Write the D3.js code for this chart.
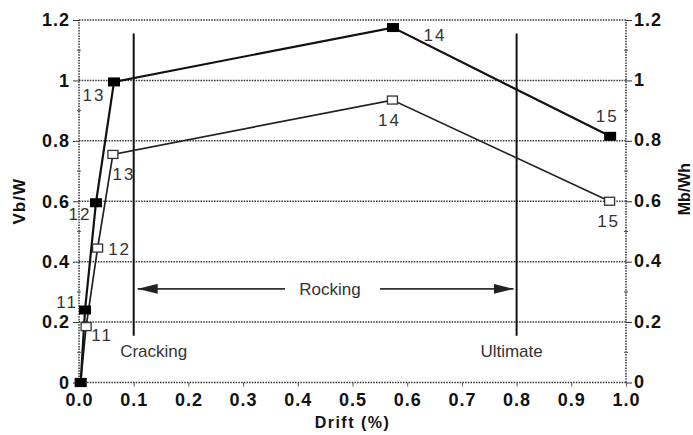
<!DOCTYPE html>
<html>
<head>
<meta charset="utf-8">
<script src="https://cdn.jsdelivr.net/npm/d3@7"></script>
<style>
  html, body { margin: 0; padding: 0; background: #fff; }
  svg { display: block; font-family: "Liberation Sans", Arial, sans-serif; }
</style>
</head>
<body>
<svg id="chart" width="693" height="435"></svg>
<script>
// Shear response: base shear ratio (filled) and moment ratio (open) vs drift
const stepLabels   = ["", "11", "12", "13", "14", "15"];
const driftShear   = [0.003, 0.011, 0.031, 0.064, 0.574, 0.971];
const shearRatio   = [0.0, 0.24, 0.595, 0.995, 1.175, 0.815];
const driftMoment  = [0.003, 0.013, 0.034, 0.062, 0.573, 0.970];
const momentRatio  = [0.0, 0.185, 0.445, 0.755, 0.935, 0.60];

const xTicks = [0.0, 0.1, 0.2, 0.3, 0.4, 0.5, 0.6, 0.7, 0.8, 0.9, 1.0];
const yTicks = [0, 0.2, 0.4, 0.6, 0.8, 1, 1.2];
const yMinorTicks = [0.1, 0.3, 0.5, 0.7, 0.9, 1.1];

// Stage markers and the rocking range
const stageDrift  = [0.1, 0.8];
const stageNames  = ["Cracking", "Ultimate"];
const stageSpan   = [0.155, 1.155];
const rockingLevel = 0.31;

const svg = d3.select("#chart");
const x = d3.scaleLinear().domain([0, 1]).range([79, 626]);
const y = d3.scaleLinear().domain([0, 1.2]).range([382.5, 20]);

const dotted = "1.5,1.2";
const gridColor = "#333";

// Horizontal grid lines (dotted), including top and bottom frame
svg.append("g").selectAll("line").data(yTicks).join("line")
  .attr("x1", x(0)).attr("x2", x(1))
  .attr("y1", d => y(d)).attr("y2", d => y(d))
  .attr("stroke", gridColor).attr("stroke-width", 1.5)
  .attr("stroke-dasharray", dotted);

// Left and right frame (dotted)
svg.append("g").selectAll("line").data([0, 1]).join("line")
  .attr("x1", d => x(d)).attr("x2", d => x(d))
  .attr("y1", y(0)).attr("y2", y(1.2))
  .attr("stroke", gridColor).attr("stroke-width", 1.5)
  .attr("stroke-dasharray", dotted);

// Axes
const tickFont = g => g.selectAll("text")
  .attr("font-size", 18).attr("font-weight", "bold").attr("fill", "#111")
  .attr("letter-spacing", 1)
  .attr("font-family", "'Liberation Sans', Arial, sans-serif");

const leftAxis = d3.axisLeft(y).tickValues(yTicks).tickSize(6).tickPadding(3)
  .tickFormat(d => d3.format("")(d));
svg.append("g").attr("transform", `translate(${x(0)},0)`).call(leftAxis)
  .call(g => g.select(".domain").remove())
  .call(g => g.selectAll("line").attr("stroke", "#333"))
  .call(tickFont);

const rightAxis = d3.axisRight(y).tickValues(yTicks).tickSize(6).tickPadding(2)
  .tickFormat(d => d3.format("")(d));
svg.append("g").attr("transform", `translate(${x(1)},0)`).call(rightAxis)
  .call(g => g.select(".domain").remove())
  .call(g => g.selectAll("line").attr("stroke", "#333"))
  .call(tickFont)
  .call(g => g.selectAll("text").attr("dy", "0.28em"));

// Minor ticks on both vertical axes
[0, 1].forEach(side => {
  svg.append("g").selectAll("line").data(yMinorTicks).join("line")
    .attr("x1", x(side) - 2).attr("x2", x(side) + 2)
    .attr("y1", d => y(d)).attr("y2", d => y(d))
    .attr("stroke", "#555").attr("stroke-width", 1);
});

const bottomAxis = d3.axisBottom(x).tickValues(xTicks).tickSize(4).tickPadding(7)
  .tickFormat(d3.format(".1f"));
svg.append("g").attr("transform", `translate(0,${y(0)})`).call(bottomAxis)
  .call(g => g.select(".domain").remove())
  .call(g => g.selectAll("line").attr("stroke", "#555"))
  .call(tickFont);

// Axis titles
svg.append("text")
  .attr("transform", `translate(25,${y(0.6)}) rotate(-90)`)
  .attr("text-anchor", "middle")
  .attr("font-size", 17).attr("font-weight", "bold").attr("fill", "#111")
  .attr("letter-spacing", 1)
  .text("Vb/W");
svg.append("text")
  .attr("transform", `translate(690,${y(0.64)}) rotate(-90)`)
  .attr("text-anchor", "middle")
  .attr("font-size", 16).attr("font-weight", "bold").attr("fill", "#111")
  .text("Mb/Wh");
svg.append("text")
  .attr("x", x(0.5)).attr("y", 428)
  .attr("text-anchor", "middle")
  .attr("font-size", 16).attr("font-weight", "bold").attr("fill", "#111")
  .attr("letter-spacing", 1.5)
  .text("Drift (%)");

// Stage markers
svg.append("g").selectAll("line").data(stageDrift).join("line")
  .attr("x1", d => x(d)).attr("x2", d => x(d))
  .attr("y1", y(stageSpan[0])).attr("y2", y(stageSpan[1]))
  .attr("stroke", "#111").attr("stroke-width", 2);
svg.append("g").selectAll("text").data(stageDrift).join("text")
  .attr("x", (d, i) => x(d) + (i === 0 ? 20 : -5))
  .attr("y", y(0.085))
  .attr("text-anchor", "middle")
  .attr("font-size", 17).attr("fill", "#333")
  .text((d, i) => stageNames[i]);

// Rocking range arrow
const defs = svg.append("defs");
defs.append("marker").attr("id", "head")
  .attr("viewBox", "0 0 20 10").attr("refX", 20).attr("refY", 5)
  .attr("markerWidth", 20).attr("markerHeight", 10)
  .attr("markerUnits", "userSpaceOnUse").attr("orient", "auto-start-reverse")
  .append("path").attr("d", "M0,0 L20,5 L0,10 Z").attr("fill", "#222");

const rockX0 = x(stageDrift[0]) + 4, rockX1 = x(stageDrift[1]) - 3;
svg.append("line")
  .attr("x1", rockX0).attr("x2", 285)
  .attr("y1", y(rockingLevel)).attr("y2", y(rockingLevel))
  .attr("stroke", "#333").attr("stroke-width", 1.6)
  .attr("marker-start", "url(#head)");
svg.append("line")
  .attr("x1", 380).attr("x2", rockX1)
  .attr("y1", y(rockingLevel)).attr("y2", y(rockingLevel))
  .attr("stroke", "#333").attr("stroke-width", 1.6)
  .attr("marker-end", "url(#head)");
svg.append("text")
  .attr("x", 330).attr("y", y(rockingLevel) + 6)
  .attr("text-anchor", "middle")
  .attr("font-size", 17).attr("fill", "#333")
  .text("Rocking");

// Series lines
const line = d3.line();
const momentPts = driftMoment.map((d, i) => [x(d), y(momentRatio[i])]);
const shearPts = driftShear.map((d, i) => [x(d), y(shearRatio[i])]);

svg.append("path").attr("d", line(momentPts))
  .attr("fill", "none").attr("stroke", "#222").attr("stroke-width", 1.7);
svg.append("path").attr("d", line(shearPts))
  .attr("fill", "none").attr("stroke", "#111").attr("stroke-width", 2.2);

// Open squares (moment ratio)
svg.append("g").selectAll("rect").data(momentPts).join("rect")
  .attr("x", d => d[0] - 5).attr("y", d => d[1] - 4)
  .attr("width", 10).attr("height", 8)
  .attr("fill", "#fff").attr("stroke", "#333").attr("stroke-width", 1.3);

// Filled squares (shear ratio)
svg.append("g").selectAll("rect").data(shearPts).join("rect")
  .attr("x", d => d[0] - 6).attr("y", d => d[1] - 4.5)
  .attr("width", 12).attr("height", 9)
  .attr("fill", "#000");

// Step labels
const shearLabelOffset  = [[0, 0], [-18, -8], [-16, 11], [-20, 13], [42, 7], [-3, -20]];
const momentLabelOffset = [[0, 0], [16, 8], [22, 1], [11, 20], [-3, 20], [-1, 20]];

const drawLabels = (pts, offsets) => {
  svg.append("g").selectAll("text").data(pts).join("text")
    .attr("x", (d, i) => d[0] + offsets[i][0])
    .attr("y", (d, i) => d[1] + offsets[i][1] + 6)
    .attr("text-anchor", "middle")
    .attr("font-size", 17).attr("fill", "#333")
    .attr("letter-spacing", 2)
    .text((d, i) => stepLabels[i]);
};
drawLabels(shearPts, shearLabelOffset);
drawLabels(momentPts, momentLabelOffset);
</script>
</body>
</html>
